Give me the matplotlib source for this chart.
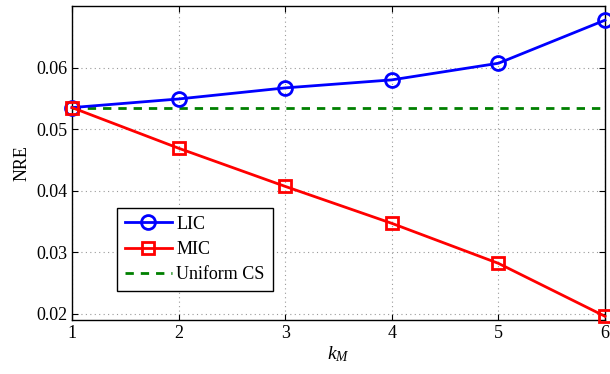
import matplotlib
matplotlib.use('Agg')
import matplotlib.pyplot as plt

plt.rcParams['font.family'] = ['Liberation Serif', 'DejaVu Serif']
plt.rcParams['mathtext.fontset'] = 'custom'
plt.rcParams['mathtext.it'] = 'Liberation Serif:italic'
plt.rcParams['mathtext.rm'] = 'Liberation Serif'

k_m = [1, 2, 3, 4, 5, 6]
lic = [0.0535, 0.0549, 0.0567, 0.0580, 0.0607, 0.0677]
mic = [0.0535, 0.0469, 0.0407, 0.0347, 0.0282, 0.0196]
uniform_cs = [0.0535] * len(k_m)

fig = plt.figure(figsize=(6.1, 3.74), dpi=100)
ax = fig.add_axes([72 / 610, 1 - 320 / 374, 533 / 610, 314 / 374])

ax.plot(k_m, lic, color='blue', lw=2, marker='o', ms=10, mfc='none', mew=2,
        label='LIC', clip_on=False, zorder=4)
ax.plot(k_m, mic, color='red', lw=2, marker='s', ms=8, mfc='none', mew=2,
        label='MIC', clip_on=False, zorder=5)
ax.plot(k_m, uniform_cs, color='green', lw=2, ls=(0, (3, 2.5)), label='Uniform CS',
        zorder=3)

ax.set_xlim(1, 6)
ax.set_ylim(0.019, 0.070)
ax.set_xticks(k_m)
ax.set_yticks([0.02, 0.03, 0.04, 0.05, 0.06])
ax.set_yticklabels(['0.02', '0.03', '0.04', '0.05', '0.06'])
ax.grid(True, ls=(0, (1, 3)), color='#999999', lw=0.8)
ax.tick_params(direction='in', top=True, right=True, labelsize=13, length=4)
for s in ax.spines.values():
    s.set_linewidth(1.0)

ax.set_xlabel('$k_M$', fontsize=14, labelpad=2)
ax.set_ylabel('NRE', fontsize=13, labelpad=4)

leg = ax.legend(loc='lower left', bbox_to_anchor=(0.084, 0.092), fontsize=13,
                fancybox=False, edgecolor='black', framealpha=1, handlelength=2.6,
                borderpad=0.45, labelspacing=0.45, handletextpad=0.25, borderaxespad=0)
leg.get_frame().set_linewidth(1.0)

fig.savefig('out.png', dpi=100)
